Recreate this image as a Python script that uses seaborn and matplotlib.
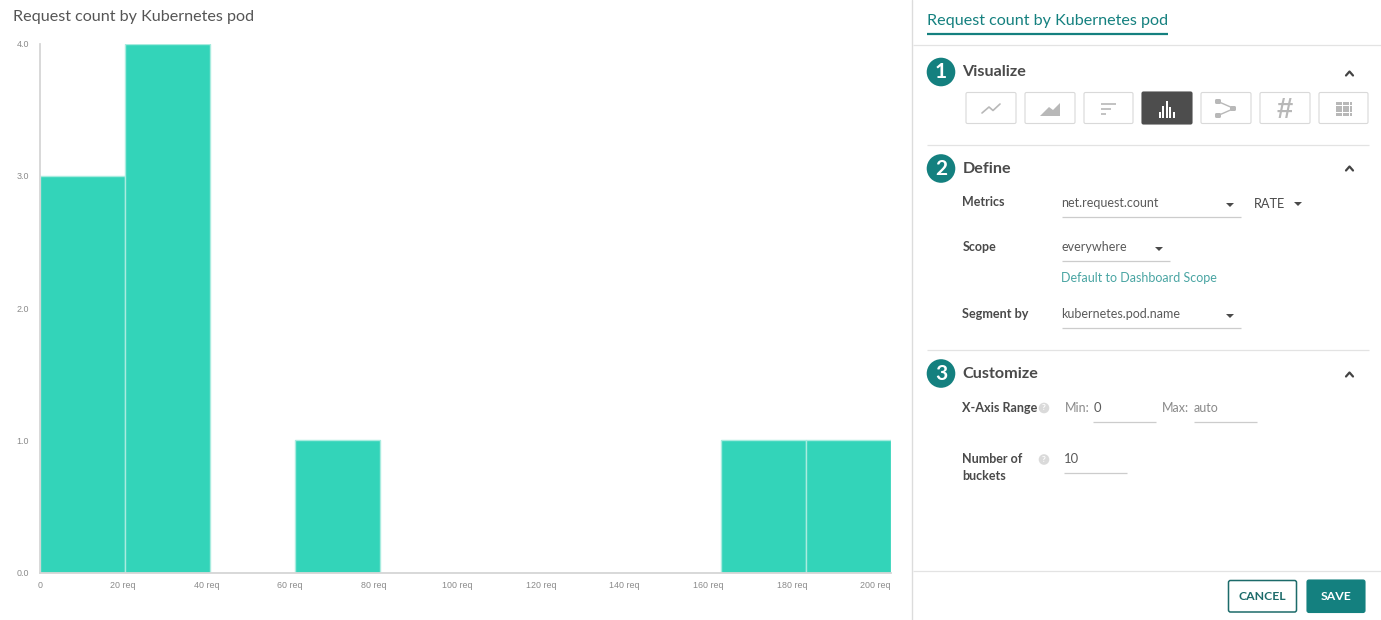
import numpy as np
import pandas as pd
import matplotlib
matplotlib.use("Agg")
import matplotlib.pyplot as plt
import seaborn as sns
from matplotlib.patches import Circle, FancyBboxPatch, Polygon, Rectangle

# =========================================================
# DATA
# =========================================================
bucket_edges = [0, 20, 40, 60, 80, 100, 120, 140, 160, 180, 200]
bucket_mids = [10, 30, 50, 70, 90, 110, 130, 150, 170, 190]
bucket_counts = [3, 4, 0, 1, 0, 0, 0, 0, 1, 1]

y_ticks = [0, 1, 2, 3, 4]
y_labels = ["0.0", "1.0", "2.0", "3.0", "4.0"]

x_labels = ["0", "20 req", "40 req", "60 req", "80 req", "100 req",
            "120 req", "140 req", "160 req", "180 req", "200 req"]
# the app puts its labels slightly inside the bucket edges
x_label_pos = [0, 19.5, 39.2, 58.8, 78.5, 98.1, 117.8, 137.4, 157.1, 176.7, 196.4]

TITLE = "Request count by Kubernetes pod"

# =========================================================
# STYLE
# =========================================================
TEAL = "#14807f"
BAR = "#33d4b9"
BAR_EDGE = "#a8ecdf"
TEXT = "#4a4a4a"
MUTED = "#7d7d7d"
RULE = "#e3e3e3"
ICON = "#b8b8b8"
FONT = "Lato"

sns.set_theme(style="white")
plt.rcParams["font.family"] = [FONT, "DejaVu Sans"]

W, H = 1381, 620
fig = plt.figure(figsize=(W / 100, H / 100), dpi=100, facecolor="white")

# =========================================================
# HISTOGRAM
# =========================================================
ax = fig.add_axes([40 / W, 1 - 572.5 / H, (891 - 40) / W, (572.5 - 43.5) / H])

df = pd.DataFrame({"mid": bucket_mids, "count": bucket_counts})

sns.histplot(
    data=df,
    x="mid",
    weights="count",
    bins=bucket_edges,
    color=BAR,
    alpha=1,
    edgecolor=BAR_EDGE,
    linewidth=1,
    ax=ax
)

ax.set_xlim(bucket_edges[0], bucket_edges[-1])
ax.set_ylim(0, 4)
ax.set_xlabel("")
ax.set_ylabel("")
ax.set_yticks(y_ticks)
ax.set_yticklabels(y_labels, family="Liberation Sans", fontsize=6.4, color="#8a8a8a")
ax.set_xticks(x_label_pos)
ax.set_xticklabels(x_labels, family="Liberation Sans", fontsize=6.4, color="#8a8a8a")
ax.tick_params(axis="x", length=0, pad=6)
ax.tick_params(axis="y", length=0, pad=8)
ax.grid(False)

for side in ["top", "right"]:
    ax.spines[side].set_visible(False)
for side in ["left", "bottom"]:
    ax.spines[side].set_color("#d6d6d6")
    ax.spines[side].set_linewidth(1.3)

# =========================================================
# PAGE LAYER (pixel coordinates)
# =========================================================
ui = fig.add_axes([0, 0, 1, 1], zorder=5)
ui.set_xlim(0, W)
ui.set_ylim(H, 0)
ui.axis("off")
ui.patch.set_alpha(0)


def label(x, y, s, size=9.4, color=TEXT, weight="normal", ha="left", **kw):
    ui.text(x, y + 1, s, fontsize=size, color=color, weight=weight, ha=ha, va="center", **kw)


def rule(x0, x1, y, color=RULE, lw=0.9):
    ui.plot([x0, x1], [y - 0.7, y - 0.7], color=color, lw=lw, solid_capstyle="butt")


def caret(x, y):
    ui.add_patch(Polygon([[x - 4, y - 2], [x + 4, y - 2], [x, y + 2]], color="#4a4a4a", lw=0))


def chevron(x, y):
    ui.plot([x - 3.5, x, x + 3.5], [y + 2, y - 2, y + 2], color="#444444", lw=1.6)


def box(x0, y0, x1, y1, face="white", edge="#d9d9d9", lw=0.8, radius=1.5):
    ui.add_patch(FancyBboxPatch((x0, y0), x1 - x0, y1 - y0,
                                boxstyle=f"round,pad=0,rounding_size={radius}",
                                fc=face, ec=edge, lw=lw))


label(13, 15.5, TITLE, size=11.6, color="#555555")

ui.plot([912, 912], [0, H], color="#dcdcdc", lw=1)
rule(913, W, 45.5)
rule(927, 1369, 145.5)
rule(927, 1369, 350.5)
rule(913, W, 571.5)

label(927, 20.5, TITLE, size=11.6, color=TEAL)
rule(927, 1168, 35, color=TEAL, lw=1.6)

# section headers
for num, head, cy, chev_y in [("1", "Visualize", 72, 73.5),
                              ("2", "Define", 168.5, 168.5),
                              ("3", "Customize", 373.5, 374.5)]:
    ui.add_patch(Circle((941, cy), 14.3, color=TEAL, lw=0))
    ui.text(941, cy + 0.5, num, fontsize=15, color="white", ha="center", va="center", weight="bold")
    label(962.5, cy - 0.5, head, size=11.6, color=TEXT, weight="bold")
    chevron(1349.5, chev_y)

# chart type buttons
for x0, x1 in [(966, 1016), (1025, 1075), (1084, 1133), (1201, 1251), (1260, 1310), (1319, 1368)]:
    box(x0, 92.5, x1, 123.5)
box(1142, 92, 1192, 124, face="#4d4d4d", edge="#4d4d4d")

ui.plot([982, 989, 993, 1000], [113, 107, 110.5, 104], color=ICON, lw=1.2)
ui.add_patch(Polygon([[1040, 116], [1049, 107], [1053, 110], [1060, 103], [1060, 116]], color=ICON, lw=0))
for y, x1 in [(104, 1116.5), (109, 1111), (114, 1106)]:
    ui.plot([1101, x1], [y, y], color=ICON, lw=1.2, solid_capstyle="butt")
for x, y in [(1160, 111.5), (1163.5, 106), (1167, 101), (1170.5, 106.5), (1174.5, 111.5)]:
    ui.add_patch(Rectangle((x - 1, y), 2, 117.5 - y, color="white", lw=0))

ui.plot([1218, 1234, 1218], [101.5, 108.5, 115.5], color=ICON, lw=1)
for x, y in [(1218, 101.5), (1218, 115.5), (1233, 108.5)]:
    box(x - 3, y - 2.5, x + 3, y + 2.5, face=ICON, edge=ICON, lw=0)
ui.text(1285, 110.5, "#", fontsize=21, color=ICON, weight="bold", ha="center", va="center",
        family="Liberation Sans")
for i in range(5):
    for j in range(4):
        ui.add_patch(Rectangle((1336 + i * 3.4, 102.3 + j * 3.5), 2.8, 2.9, color=ICON, lw=0))

# define section
label(962.5, 201, "Metrics", size=9, weight="bold")
label(962.5, 246, "Scope", size=9, weight="bold")
label(962.5, 313, "Segment by", size=9.1, weight="bold")

label(1061.5, 202, "net.request.count", size=9, color="#5a5a5a")
rule(1062, 1241, 217.5, color="#cccccc")
caret(1230, 205)
label(1254, 203, "RATE", size=9.2, weight="normal")
caret(1298, 204)

label(1061.5, 246, "everywhere", size=9, color="#5a5a5a")
rule(1062, 1170, 261.5, color="#cccccc")
caret(1159, 249)
label(1061.5, 277, "Default to Dashboard Scope", size=9, color="#4aa5a3")

label(1061.5, 313, "kubernetes.pod.name", size=9, color="#5a5a5a")
rule(1062, 1241, 328.5, color="#cccccc")
caret(1230, 316)

# customize section
label(962.5, 407, "X-Axis Range", size=9.1, weight="bold")
ui.add_patch(Circle((1044, 408), 5.3, color="#dadada", lw=0))
ui.text(1044, 408, "?", fontsize=6, color="white", ha="center", va="center", weight="bold")
label(1065, 407, "Min:", size=9, color="#8a8a8a")
label(1093.5, 407, "0", size=9.4, color="#5a5a5a")
rule(1093, 1156, 422.5, color="#cccccc")
label(1162, 407, "Max:", size=9, color="#8a8a8a")
label(1193.5, 407, "auto", size=9, color="#8a8a8a")
rule(1194, 1257, 422.5, color="#cccccc")

label(962.5, 458, "Number of", size=9, weight="bold")
label(962.5, 475, "buckets", size=9, weight="bold")
ui.add_patch(Circle((1044, 459.5), 5.3, color="#dadada", lw=0))
ui.text(1044, 459.5, "?", fontsize=6, color="white", ha="center", va="center", weight="bold")
label(1064, 458, "10", size=9.4, color="#5a5a5a")
rule(1064, 1127, 473.5, color="#cccccc")

# footer buttons
box(1228.5, 580.5, 1296.5, 612, edge="#1c6b6a", lw=1.1, radius=2)
ui.text(1262.5, 596, "CANCEL", fontsize=8.8, color="#1c6b6a", weight="bold", ha="center", va="center")
box(1307, 580, 1365, 612.5, face=TEAL, edge=TEAL, radius=2)
ui.text(1336, 596, "SAVE", fontsize=8.8, color="white", weight="bold", ha="center", va="center")

plt.savefig("out.png", dpi=100, facecolor="white")
